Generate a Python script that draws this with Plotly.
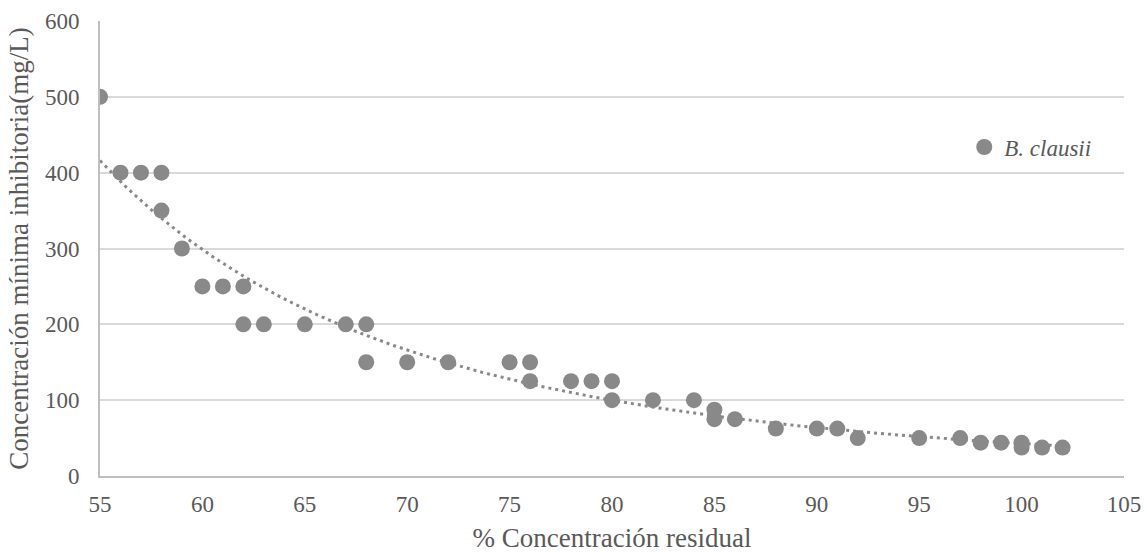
import numpy as np
import plotly.graph_objects as go

x_vals = [55, 56, 57, 58, 58, 59, 60, 61, 62, 62, 63, 65, 67, 68, 68, 70, 72, 75, 76, 76,
          78, 79, 80, 80, 82, 84, 85, 85, 86, 88, 90, 91, 92, 95, 97, 98, 99, 100, 100, 101, 102]
y_vals = [500, 400, 400, 400, 350, 300, 250, 250, 250, 200, 200, 200, 200, 200, 150, 150, 150, 150, 150, 125,
          125, 125, 125, 100, 100, 100, 87.5, 75, 75, 62.5, 62.5, 62.5, 50, 50, 50, 44, 44, 44, 37.5, 37.5, 37.5]
series_name = "B. clausii"
x_ticks = [55, 60, 65, 70, 75, 80, 85, 90, 95, 100, 105]
y_ticks = [0, 100, 200, 300, 400, 500, 600]

# Power trendline (least squares on log y vs log x, as Excel does)
xa = np.array(x_vals, float)
ya = np.array(y_vals, float)
b, ln_a = np.polyfit(np.log(xa), np.log(ya), 1)
xt = np.linspace(xa.min(), xa.max(), 200)
yt = np.exp(ln_a) * xt ** b

font_family = "Liberation Serif"
text_color = "#595959"
pt_color = "#898989"
tick_size = 23
title_size = 27

fig = go.Figure()
fig.add_trace(go.Scatter(x=xt, y=yt, mode="lines",
                         line=dict(color=pt_color, width=3, dash="3px,4px"),
                         showlegend=False, hoverinfo="skip"))
fig.add_trace(go.Scatter(x=x_vals, y=y_vals, mode="markers", name="<i>" + series_name + "</i>",
                         marker=dict(color=pt_color, size=16, line=dict(width=0))))

fig.update_layout(
    width=1144, height=553,
    margin=dict(l=100, r=20, t=21, b=77),
    paper_bgcolor="white", plot_bgcolor="white",
    font=dict(family=font_family, size=tick_size, color=text_color),
    legend=dict(x=0.844, y=0.723, xanchor="left", yanchor="middle",
                bgcolor="rgba(0,0,0,0)", font=dict(family=font_family, size=23, color=text_color),
                tracegroupgap=0),
    xaxis=dict(range=[55, 105], tickvals=x_ticks, showgrid=False, zeroline=False, automargin=False,
               showline=True, linecolor="#bfbfbf", linewidth=2, ticks="", ticklabelstandoff=6,
               title=dict(text="% Concentración residual", font=dict(family=font_family, size=title_size, color=text_color), standoff=15),
               tickfont=dict(family=font_family, size=tick_size, color=text_color)),
    yaxis=dict(range=[0, 600], tickvals=y_ticks, showgrid=True, gridcolor="#d9d9d9", gridwidth=1.5, automargin=False,
               zeroline=False, showline=True, linecolor="#bfbfbf", linewidth=2, ticks="", ticklabelstandoff=14,
               title=dict(text="Concentración mínima inhibitoria(mg/L)", font=dict(family=font_family, size=title_size, color=text_color), standoff=8),
               tickfont=dict(family=font_family, size=tick_size, color=text_color)),
)

fig.write_html("out.html", config={"displayModeBar": False},
               post_script="document.body.style.margin='0';document.body.style.overflow='hidden';")
